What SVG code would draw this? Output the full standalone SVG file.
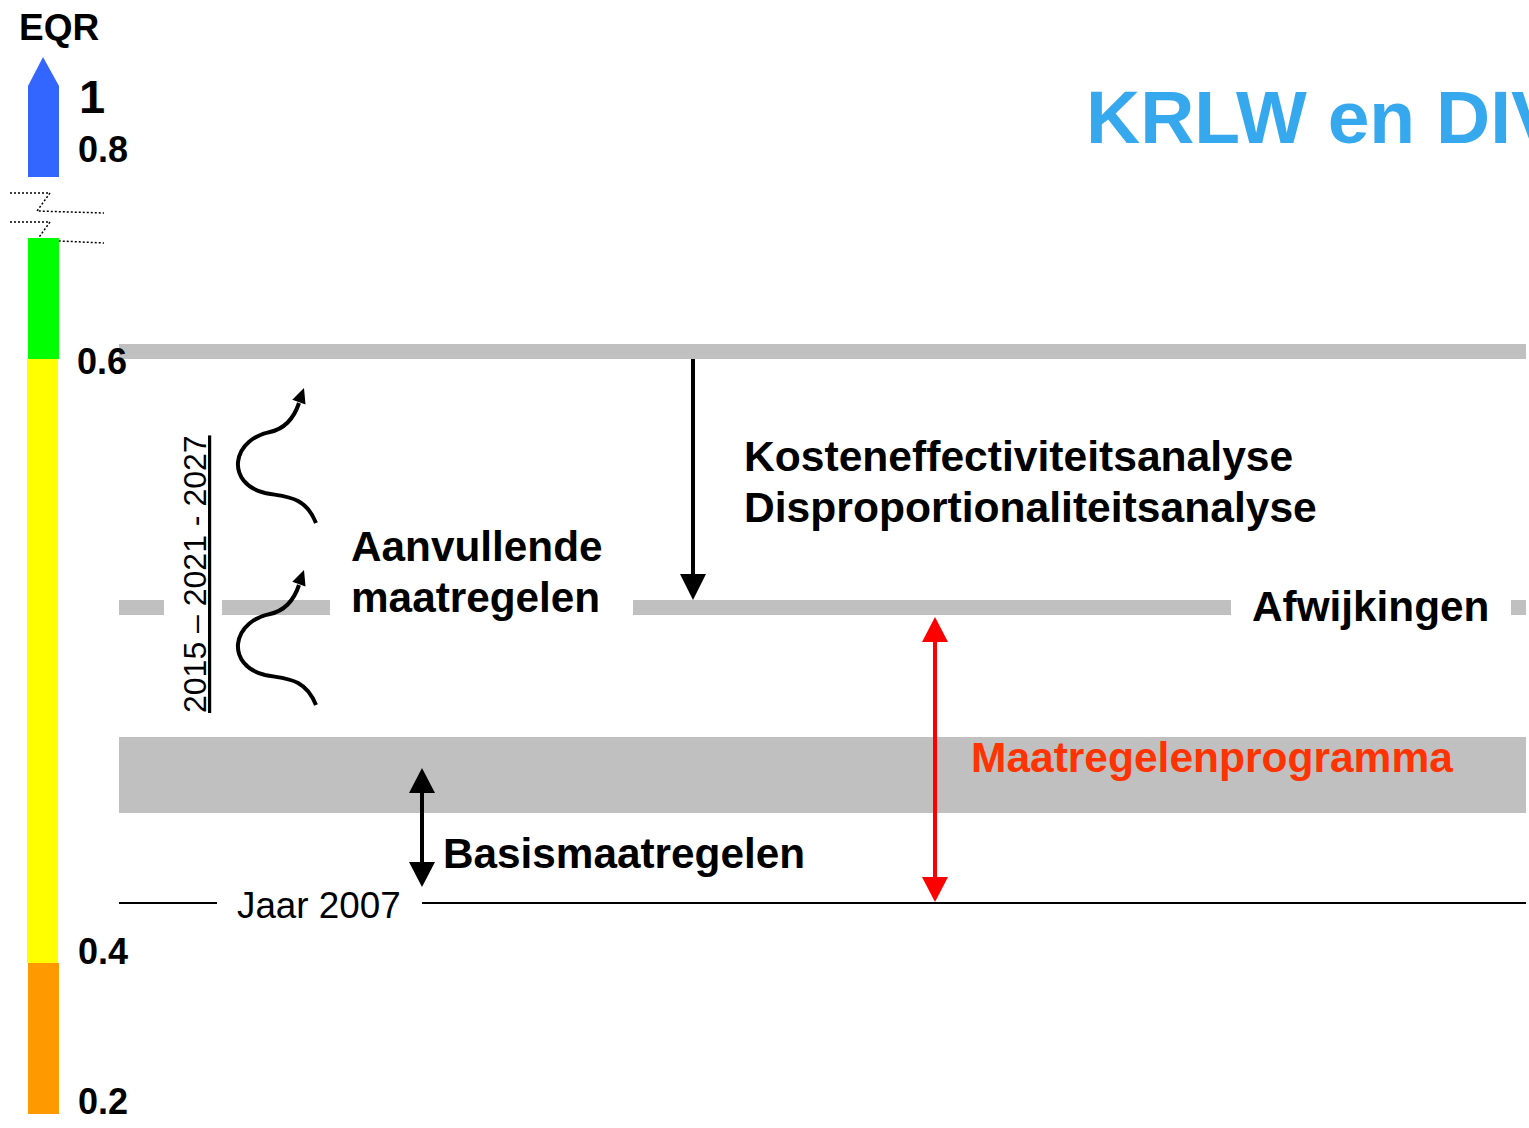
<svg xmlns="http://www.w3.org/2000/svg" width="1529" height="1128" viewBox="0 0 1529 1128">
<style>
.b{font-family:"Liberation Sans",Arial,sans-serif;font-weight:bold;fill:#000}
.r{font-family:"Liberation Sans",Arial,sans-serif;fill:#000}
.gray{fill:#C0C0C0}
.conn{stroke:#000;stroke-width:4;fill:none}
.head{fill:#000}
.brk{stroke:#000;stroke-width:1.5;stroke-dasharray:2,2;fill:none}
</style>

<g id="levels">
<rect class="gray" x="119" y="344" width="1407" height="15"/>
<rect class="gray" x="119" y="600" width="45" height="15"/>
<rect class="gray" x="222" y="600" width="108" height="15"/>
<rect class="gray" x="633" y="600" width="598" height="15"/>
<rect class="gray" x="1511" y="600" width="15" height="15"/>
<rect class="gray" x="119" y="737" width="1407" height="76"/>
<line x1="119" y1="903" x2="217" y2="903" stroke="#000" stroke-width="2"/>
<line x1="422" y1="903" x2="1526" y2="903" stroke="#000" stroke-width="2"/>
</g>

<g id="scale">
<text class="b" x="19" y="40" font-size="37">EQR</text>
<path d="M43,57 L59,86 L59,177 L28,177 L28,86 Z" fill="#3366FF"/>
<path class="brk" d="M10,193 L50,193 L37,211 L104,213"/>
<path class="brk" d="M10,222 L50,222 L37,240 L104,243"/>
<rect x="28" y="238" width="31" height="121" fill="#00FF00"/>
<rect x="27" y="359" width="31" height="604" fill="#FFFF00"/>
<rect x="28" y="963" width="31" height="151" fill="#FF9900"/>
<text class="b" x="79" y="113" font-size="47">1</text>
<text class="b" x="78" y="162" font-size="36">0.8</text>
<text class="b" x="77" y="374" font-size="36">0.6</text>
<text class="b" x="78" y="964" font-size="36">0.4</text>
<text class="b" x="78" y="1114" font-size="36">0.2</text>
</g>

<g id="title">
<text x="1086" y="143" font-family="Liberation Sans,Arial,sans-serif" font-weight="bold" font-size="75" fill="#36A9EE">KRLW en DIV</text>
</g>

<g id="labels">
<text class="b" x="744" y="471" font-size="42.6">Kosteneffectiviteitsanalyse</text>
<text class="b" x="744" y="522" font-size="42.6">Disproportionaliteitsanalyse</text>
<text class="b" x="351" y="561" font-size="42.3">Aanvullende</text>
<text class="b" x="351" y="612" font-size="42.3">maatregelen</text>
<text class="b" x="1252" y="621" font-size="42.3">Afwijkingen</text>
<text x="971" y="772" font-family="Liberation Sans,Arial,sans-serif" font-weight="bold" font-size="42.5" fill="#FF3300">Maatregelenprogramma</text>
<text class="b" x="443" y="868" font-size="42.3">Basismaatregelen</text>
<text class="r" x="237" y="918" font-size="36.8">Jaar 2007</text>
<text class="r" transform="translate(206,713) rotate(-90)" font-size="32" text-decoration="underline">2015 – 2021 - 2027</text>
</g>

<g id="connectors">
<line class="conn" x1="693" y1="359" x2="693" y2="578"/>
<polygon class="head" points="680,574 706,574 693,600"/>
<line x1="935" y1="638" x2="935" y2="881" stroke="#FF0000" stroke-width="4"/>
<polygon points="922,642 948,642 935,617" fill="#FF0000"/>
<polygon points="922,877 948,877 935,902" fill="#FF0000"/>
<line class="conn" x1="422" y1="790" x2="422" y2="864"/>
<polygon class="head" points="409,793 435,793 422,768"/>
<polygon class="head" points="409,862 435,862 422,887"/>
<path class="conn" d="M316,523 C305,495 285,497 265,493 C245,488 237,475 238,462 C240,445 255,435 270,432 C288,428 295,415 299,403"/>
<polygon class="head" points="304,388 292.3,399.7 305.5,404.5"/>
<path class="conn" d="M316,705 C305,677 285,679 265,675 C245,670 237,657 238,644 C240,627 255,617 270,614 C288,610 295,597 299,585"/>
<polygon class="head" points="304,570 292.3,581.7 305.5,586.5"/>
</g>
</svg>
